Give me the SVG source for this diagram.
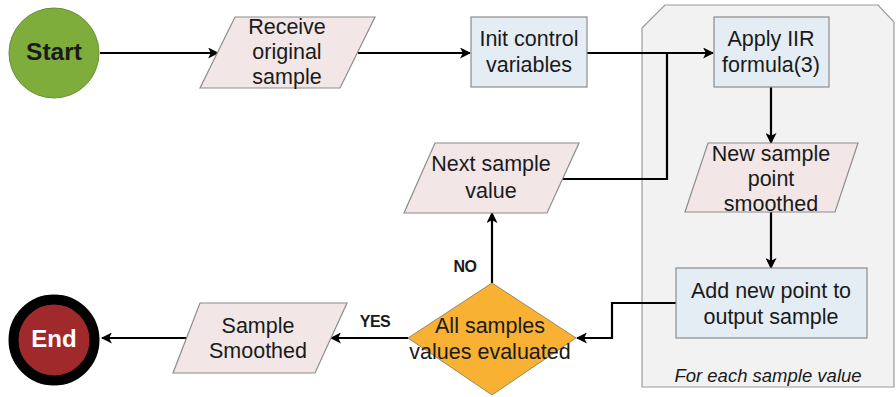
<svg xmlns="http://www.w3.org/2000/svg" width="896" height="397" viewBox="0 0 896 397">
<style>
text{font-family:"Liberation Sans",Arial,sans-serif;font-size:21.5px;fill:#1a1a1a;text-anchor:middle;dominant-baseline:middle}
.io{fill:#F2E6E6;stroke:#8c8c8c;stroke-width:1.2}
.box{fill:#E4EDF4;stroke:#8c8c8c;stroke-width:1.2}
.c{fill:none;stroke:#000;stroke-width:2.2}
.lbl{font-weight:bold;font-size:16px;letter-spacing:-0.5px}
</style>
<defs>
<marker id="ah" viewBox="0 0 10 10" refX="9" refY="5" markerWidth="5" markerHeight="5" orient="auto" markerUnits="strokeWidth">
<path d="M0,0 L10,5 L0,10 L2.5,5 Z" fill="#000"/>
</marker>
</defs>
<rect width="896" height="397" fill="#fff"/>
<g id="container">
<path d="M642,28 L665,5 L878,5 L894,22 L894,387 L642,387 Z" fill="#F2F2F2" stroke="#9a9a9a" stroke-width="1.2"/>
<text x="768" y="377" style="font-style:italic;font-size:18.5px">For each sample value</text>
</g>
<g id="connectors">
<line class="c" x1="100" y1="53" x2="218" y2="53" marker-end="url(#ah)"/>
<line class="c" x1="358" y1="53" x2="470" y2="53" marker-end="url(#ah)"/>
<line class="c" x1="587" y1="53" x2="713" y2="53" marker-end="url(#ah)"/>
<polyline class="c" points="562,179 667,179 667,53"/>
<line class="c" x1="771" y1="87" x2="771" y2="143" marker-end="url(#ah)"/>
<line class="c" x1="771" y1="212" x2="771" y2="268" marker-end="url(#ah)"/>
<polyline class="c" points="676,303 612,303 612,338 577,338" marker-end="url(#ah)"/>
<line class="c" x1="492" y1="283" x2="492" y2="213" marker-end="url(#ah)"/>
<line class="c" x1="408" y1="338" x2="331" y2="338" marker-end="url(#ah)"/>
<line class="c" x1="187" y1="338" x2="102" y2="338" marker-end="url(#ah)"/>
<text class="lbl" x="465" y="268">NO</text>
<text class="lbl" x="375" y="323">YES</text>
</g>
<g id="start">
<circle cx="54" cy="53" r="45" fill="#7EAD3C" stroke="#6a8f35" stroke-width="1"/>
<text x="54" y="54" style="font-weight:bold;font-size:24.5px">Start</text>
</g>
<g id="receive">
<polygon class="io" points="235,17 375,17 340,88 200,88"/>
<text x="287" y="28">Receive</text>
<text x="287" y="53">original</text>
<text x="287" y="78">sample</text>
</g>
<g id="init">
<rect class="box" x="471" y="17" width="116" height="70"/>
<text x="529" y="40">Init control</text>
<text x="529" y="66">variables</text>
</g>
<g id="apply">
<rect class="box" x="714" y="17" width="115" height="70"/>
<text x="771" y="40">Apply IIR</text>
<text x="771" y="66">formula(3)</text>
</g>
<g id="newsample">
<polygon class="io" points="708,143 858,143 835,212 685,212"/>
<text x="771" y="155">New sample</text>
<text x="771" y="180">point</text>
<text x="771" y="205">smoothed</text>
</g>
<g id="addpoint">
<rect class="box" x="676" y="268" width="191" height="70"/>
<text x="771" y="292">Add new point to</text>
<text x="771" y="318">output sample</text>
</g>
<g id="decision">
<polygon points="492,283 576,338 492,395 408,338" fill="#F8B133" stroke="#9a8a60" stroke-width="1"/>
<text x="490" y="327">All samples</text>
<text x="490" y="353">values evaluated</text>
</g>
<g id="next">
<polygon class="io" points="435,143 579,143 547,213 404,213"/>
<text x="491" y="165">Next sample</text>
<text x="491" y="192">value</text>
</g>
<g id="smoothed">
<polygon class="io" points="200,303 347,303 315,373 173,373"/>
<text x="258" y="327">Sample</text>
<text x="258" y="352">Smoothed</text>
</g>
<g id="end">
<circle cx="54" cy="340" r="40.5" fill="#A02A2B" stroke="#000" stroke-width="10"/>
<text x="54" y="341" style="font-weight:bold;font-size:24px;fill:#fff">End</text>
</g>
</svg>
